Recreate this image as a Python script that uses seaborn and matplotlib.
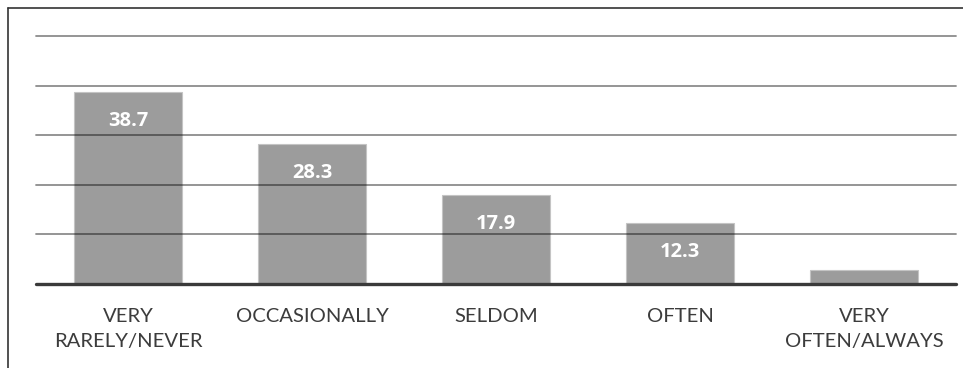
import matplotlib
matplotlib.use("Agg")
import matplotlib.pyplot as plt
import seaborn as sns
import pandas as pd
from matplotlib.lines import Line2D

categories = ["VERY\nRARELY/NEVER", "OCCASIONALLY", "SELDOM", "OFTEN", "VERY\nOFTEN/ALWAYS"]
values = [38.7, 28.3, 17.9, 12.3, 2.8]
labelled = [True, True, True, True, False]
grid_values = [10, 20, 30, 40, 50]

sns.set_theme(style="white")
plt.rcParams["font.family"] = ["Lato", "DejaVu Sans"]

df = pd.DataFrame({"category": categories, "value": values})

W, H = 963, 368
fig = plt.figure(figsize=(W / 100, H / 100), dpi=100)
fig.patch.set_facecolor("white")

left, right, base, top = 36, 956, 284, 36
ax = fig.add_axes([left / W, (H - base) / H, (right - left) / W, (base - top) / H])

sns.barplot(data=df, x="category", y="value", color="#9c9c9c", saturation=1,
            width=0.59, edgecolor="#c4c4c4", linewidth=0.8, ax=ax, zorder=1)

ax.set_xlim(-0.5, len(categories) - 0.5)
ax.set_ylim(0, 50)

for g in grid_values:
    ax.axhline(g, color="black", alpha=0.45, lw=1.3, zorder=3, clip_on=False)
ax.axhline(0, color="#3a3a3a", lw=2.4, zorder=4, clip_on=False)

for i, (v, show) in enumerate(zip(values, labelled)):
    if show:
        ax.text(i, v - 5.9, f"{v:.1f}", ha="center", va="center", color="white",
                fontsize=14.5, fontweight="bold", family=["Open Sans", "DejaVu Sans"],
                zorder=5)

for s in ax.spines.values():
    s.set_visible(False)
ax.set_yticks([])
ax.set_xlabel("")
ax.set_ylabel("")
ax.tick_params(axis="x", length=0, pad=17, labelsize=14.6, labelcolor="#3c3c3c")
for t in ax.get_xticklabels():
    t.set_linespacing(1.6)
    t.set_va("top")

# outer frame (left and top edges)
fig.add_artist(Line2D([7.5 / W, 7.5 / W], [0, 1 - 7.5 / H], transform=fig.transFigure,
                      color="#333333", lw=1.2))
fig.add_artist(Line2D([7.5 / W, 1], [1 - 7.5 / H, 1 - 7.5 / H], transform=fig.transFigure,
                      color="#333333", lw=1.2))

fig.savefig("out.png", dpi=100, facecolor="white")
